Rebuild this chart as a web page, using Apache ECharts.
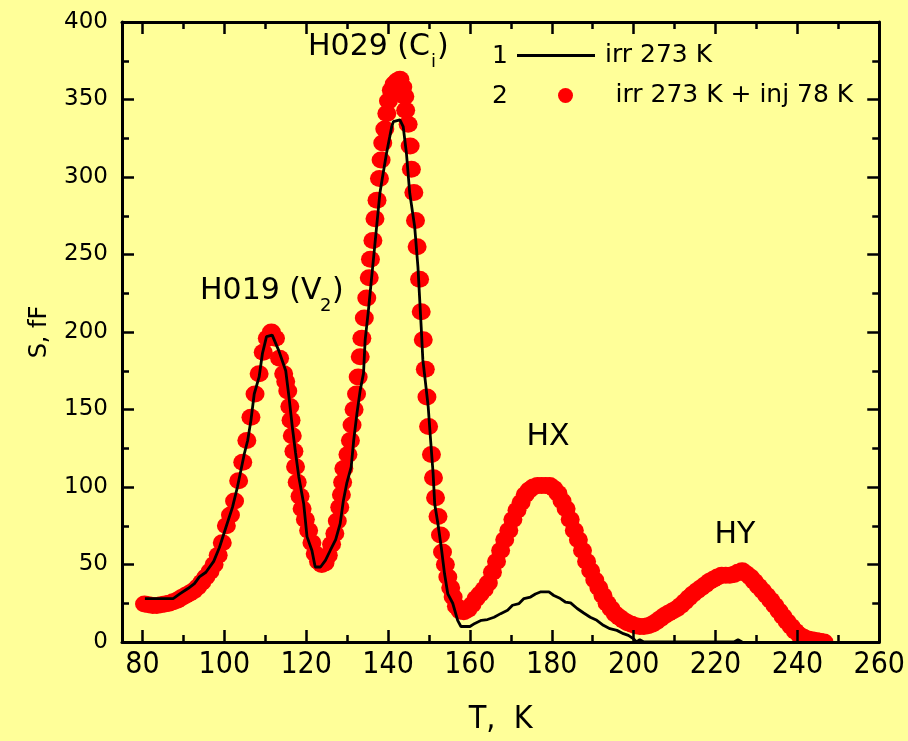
<!DOCTYPE html>
<html>
<head>
<meta charset="utf-8">
<script src="https://cdn.jsdelivr.net/npm/echarts@6/dist/echarts.min.js"></script>
<style>
html,body{margin:0;padding:0;background:#FFFF99;}
#chart{width:908px;height:741px;}
</style>
</head>
<body>
<div id="chart"></div>
<script>
// ---- data ----
const xMajorTicks = [80, 100, 120, 140, 160, 180, 200, 220, 240, 260];
const xMinorTicks = [90, 110, 130, 150, 170, 190, 210, 230, 250];

const blackT = [80.6, 82, 84, 86, 87.5, 89.1, 91.1, 92.7, 93.9, 95.5, 97.4, 98.8, 100.4, 102.0, 103.2, 104.9, 105.7, 106.5, 107.3, 108.5, 109.3, 110.3, 111.7, 113.3, 115.0, 115.8, 116.6, 117.4, 118.2, 119.4, 120.2, 121.4, 122.2, 123.5, 124.7, 125.9, 127.2, 128.3, 129.1, 129.9, 131.0, 131.6, 132.4, 133.2, 134.0, 134.4, 135.2, 136.8, 138.0, 138.4, 139.6, 140.9, 141.3, 142.9, 143.7, 144.5, 145.3, 146.5, 147.3, 148.1, 148.5, 148.9, 149.8, 150.4, 151.0, 151.4, 152.2, 153.0, 153.8, 154.6, 155.8, 157.0, 157.8, 160.0, 161.2, 162.8, 164.3, 165.9, 167.5, 169.2, 170.4, 172.0, 173.2, 174.8, 176.0, 177.2, 179.3, 180.5, 182.1, 183.3, 184.6, 186.2, 187.8, 189.4, 191.0, 192.6, 194.2, 195.9, 197.5, 198.7, 199.9, 200.7, 201.5, 202.5, 224.5, 225.5, 226.5];
const blackS = [28, 28, 28, 28, 28, 31, 34.5, 37.7, 42, 45, 52, 61, 74, 87, 100, 121.6, 130, 143, 160, 171, 186, 197, 198, 188, 175, 158, 139, 122, 106.5, 89, 68, 59, 48.4, 48.4, 52.7, 59.2, 66, 76.4, 91.5, 102.3, 113, 130, 147.5, 162.5, 173.3, 194.8, 214, 257, 289.5, 296, 315, 332.5, 335.7, 336.8, 332.5, 315, 289.5, 268, 242, 203, 182, 173, 152, 130, 109, 89, 76, 61, 44, 31, 25, 14, 10, 10, 12, 14, 14.5, 16, 18.3, 20.5, 23.7, 24.8, 28, 29, 31, 32.3, 32.3, 30, 28, 25.8, 25.2, 21.6, 18.7, 16, 14, 10.8, 8.6, 7.5, 5.4, 4.3, 2.2, 0, 1.5, 0, 0, 1.5, 0];

const redT = [80.5, 81.5, 82.5, 83.5, 84.5, 85.5, 86.5, 87.5, 88.5, 89.5, 90.5, 91.5, 92.5, 93.5, 94.5, 95.5, 96.5, 97.5, 98.5, 99.5, 100.5, 101.5, 102.5, 103.5, 104.5, 105.5, 106.5, 107.5, 108.5, 109.5, 110.5, 111.5, 112.5, 113.5, 114.5, 115.0, 115.5, 116.0, 116.3, 116.6, 117.0, 117.4, 117.8, 118.5, 119.0, 119.8, 120.6, 121.4, 122.2, 123.0, 123.8, 124.6, 125.4, 126.2, 127.0, 127.6, 128.2, 128.6, 128.9, 129.2, 130.2, 130.8, 131.2, 131.7, 132.3, 132.7, 133.2, 133.6, 134.2, 134.8, 135.4, 135.7, 136.3, 136.8, 137.3, 137.9, 138.3, 138.7, 139.2, 139.7, 140.1, 140.8, 141.5, 142.2, 142.9, 143.6, 144.1, 144.3, 144.9, 145.4, 145.7, 146.3, 146.7, 147.1, 147.7, 148.1, 148.6, 149.1, 149.5, 149.9, 150.6, 151.1, 151.6, 152.2, 152.8, 153.3, 154.0, 154.6, 155.3, 155.9, 156.7, 157.6, 158.5, 159.5, 160.5, 161.5, 162.5, 163.5, 164.5, 165.5, 166.5, 167.5, 168.5, 169.5, 170.5, 171.5, 172.5, 173.5, 174.5, 175.5, 176.5, 177.5, 178.5, 179.5, 180.5, 181.5, 182.5, 183.5, 184.5, 185.5, 186.5, 187.5, 188.5, 189.5, 190.5, 191.5, 192.5, 193.5, 194.5, 195.5, 196.5, 197.5, 198.5, 199.5, 200.5, 201.5, 202.5, 203.5, 204.5, 205.5, 206.5, 207.5, 208.5, 209.5, 210.5, 211.5, 212.5, 213.5, 214.5, 215.5, 216.5, 217.5, 218.5, 219.5, 220.5, 221.5, 222.5, 223.5, 224.5, 225.5, 226.5, 227.5, 228.5, 229.5, 230.5, 231.5, 232.5, 233.5, 234.5, 235.5, 236.5, 237.5, 238.5, 239.5, 240.5, 241.5, 242.5, 243.5, 244.5, 245.5, 246.5];
const redS = [24.5, 24, 23.5, 23.5, 24, 24.5, 25, 26, 27, 28.5, 30, 31.5, 33, 35.5, 38.5, 42, 45.5, 50, 56, 64, 75, 82, 91, 104, 116, 130, 145, 160, 173, 187, 196, 200, 196, 183, 173, 168, 162, 152, 143, 133, 123, 113, 103, 94, 86, 79, 72, 64, 57, 52, 50, 51, 56, 63, 70, 78, 87, 95, 103, 112, 121, 130, 140, 150, 160, 171, 184, 196, 209, 222, 235, 247, 259, 273, 285, 299, 311, 322, 331, 341, 349, 356, 360, 362, 363, 358, 352, 343, 334, 320, 305, 290, 272, 255, 234, 213, 195, 176, 158, 139, 121, 106, 93, 81, 69, 58, 50, 42, 35, 29, 23, 20, 19.5, 21, 24, 28, 31, 34, 38, 45, 52, 59, 66, 72, 79, 85, 90, 95, 98, 100, 101, 101, 101, 101, 99, 96, 91, 86, 79, 72, 66, 59, 52, 46, 40, 35, 30, 25, 21.5, 18, 16, 14, 12.5, 11.5, 10.5, 10, 10, 10.5, 11.5, 13, 15, 17, 18.5, 20, 21.5, 23.5, 26, 28.5, 31, 33, 35, 37, 39, 40.5, 42, 43, 43, 43, 43.5, 45, 46, 44, 42, 39, 36, 33, 30, 27, 23.5, 20, 16.5, 13, 10, 7, 4.5, 3, 2, 1.5, 1, 0.5, 0];

const seriesNames = ['irr 273 K', 'irr 273 K + inj 78 K'];

// ---- chart ----
const BG = '#FFFF99';
const SANS = '"DejaVu Sans", "Liberation Sans", Arial, sans-serif';
const NARROW = '"Liberation Sans Narrow", "DejaVu Sans Condensed", "Arial Narrow", sans-serif';

const blackData = blackT.map((t, i) => [t, blackS[i]]);
const redData = redT.map((t, i) => [t, redS[i]]);

const axisLineStyle = { color: '#000', width: 3 };
const tickStyle = { color: '#000', width: 2.5 };

function xAx(pos, ticks, len, withLine, withLabel) {
  return {
    type: 'value', position: pos, min: 75, max: 260, z: 10,
    axisLine: { show: withLine, onZero: false, lineStyle: axisLineStyle },
    axisTick: { show: true, inside: true, length: len, lineStyle: tickStyle, customValues: ticks },
    axisLabel: withLabel ? { show: true, customValues: ticks, margin: 8, color: '#000', fontSize: 30, fontFamily: NARROW } : { show: false },
    splitLine: { show: false }
  };
}

const xAxes = [
  Object.assign(xAx('bottom', xMajorTicks, 12, true, true), {
    name: 'T,  K', nameLocation: 'middle', nameGap: 62,
    nameTextStyle: { color: '#000', fontSize: 32, fontFamily: NARROW }
  }),
  xAx('bottom', xMinorTicks, 7, false, false),
  xAx('top', xMajorTicks, 12, true, false),
  xAx('top', xMinorTicks, 7, false, false)
];

function yAx(pos, withLabel) {
  const a = {
    type: 'value', position: pos, min: 0, max: 400, interval: 50, z: 10,
    axisLine: { show: true, onZero: false, lineStyle: axisLineStyle },
    axisTick: { show: true, inside: true, length: 12, lineStyle: tickStyle },
    minorTick: { show: true, splitNumber: 2, length: 7, lineStyle: tickStyle },
    axisLabel: withLabel ? { show: true, margin: 14, color: '#000', fontSize: 23, fontFamily: SANS } : { show: false },
    splitLine: { show: false }, minorSplitLine: { show: false }
  };
  if (withLabel) {
    a.name = 'S, fF'; a.nameLocation = 'middle'; a.nameRotate = 90; a.nameGap = 70;
    a.nameTextStyle = { color: '#000', fontSize: 24, fontFamily: SANS };
  }
  return a;
}

const txt = (x, y, text, size, align) => ({
  type: 'text', x: x, y: y, z: 20,
  style: { text: text, fill: '#000', font: size + 'px ' + SANS, align: align || 'left', verticalAlign: 'middle' }
});

const option = {
  backgroundColor: BG,
  animation: false,
  grid: { left: 122, right: 24, top: 22, bottom: 99, show: false },
  xAxis: xAxes,
  yAxis: [yAx('left', true), yAx('right', false)],
  legend: [
    {
      left: 517, top: 43, padding: 0, itemWidth: 78, itemHeight: 3, selectedMode: false,
      data: [{ name: seriesNames[0], icon: 'rect' }],
      textStyle: { color: '#000', fontSize: 25, fontFamily: SANS, padding: [0, 0, 0, 5] }
    },
    {
      left: 558, top: 83, padding: 0, itemWidth: 18, itemHeight: 15, selectedMode: false,
      data: [{ name: seriesNames[1], icon: 'circle' }],
      textStyle: { color: '#000', fontSize: 25, fontFamily: SANS, padding: [0, 0, 0, 36] }
    }
  ],
  graphic: [
    { type: 'rect', z: 5, shape: { x: 0, y: 643.5, width: 908, height: 98 }, style: { fill: BG } },
    txt(200, 291, 'H019 (V', 30), txt(320, 306, '2', 18), txt(332, 291, ')', 30),
    txt(308, 47, 'H029 (C', 30), txt(431, 62, 'i', 18), txt(437, 47, ')', 30),
    txt(548, 437, 'HX', 30, 'center'),
    txt(735, 535, 'HY', 30, 'center'),
    txt(500, 56, '1', 25, 'center'),
    txt(500, 96, '2', 25, 'center')
  ],
  series: [
    {
      name: seriesNames[0], type: 'line', data: blackData, xAxisIndex: 0, yAxisIndex: 0,
      showSymbol: false, symbol: 'none', z: 3, color: '#000',
      lineStyle: { color: '#000', width: 2.8 }
    },
    {
      name: seriesNames[1], type: 'scatter', data: redData, xAxisIndex: 0, yAxisIndex: 0,
      symbol: 'circle', symbolSize: [19, 17], z: 2, color: '#FF0000',
      itemStyle: { color: '#FF0000', opacity: 1 }
    }
  ]
};

const chart = echarts.init(document.getElementById('chart'), null, { renderer: 'canvas' });
chart.setOption(option);
</script>
</body>
</html>
